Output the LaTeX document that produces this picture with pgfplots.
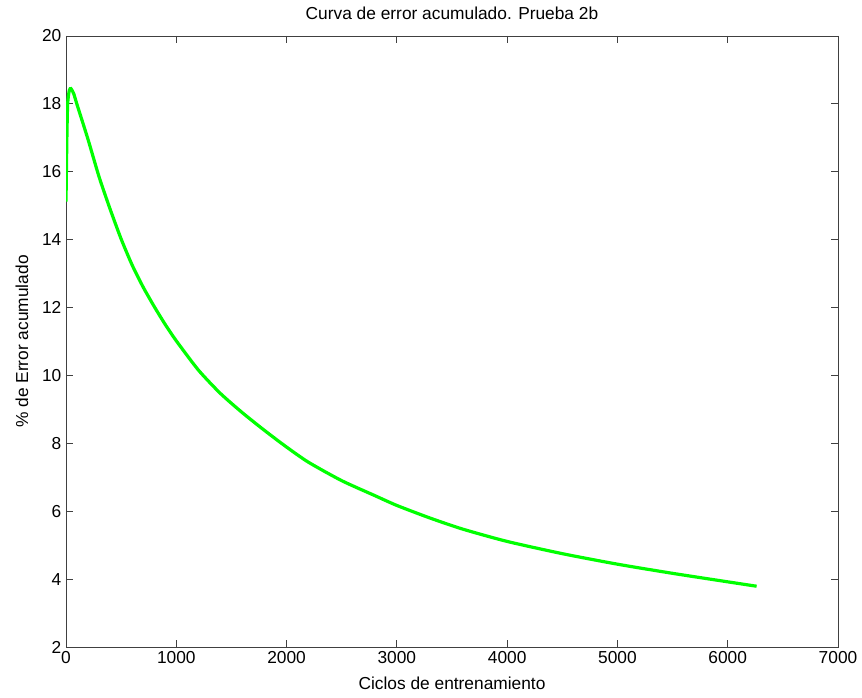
\documentclass[border=0pt]{standalone}
\usepackage{pgfplots}
\pgfplotsset{compat=1.18}
\usepackage{fontspec}
\setmainfont{Liberation Sans}
\begin{document}
\begin{tikzpicture}
\path[use as bounding box] (-49.5pt,-38.25pt) rectangle (597pt,485.25pt);
\begin{axis}[
  at={(0,0)}, anchor=south west,
  scale only axis,
  width=579pt, height=458.25pt,
  xmin=0, xmax=7000, ymin=2, ymax=20,
  xtick={0,1000,...,7000}, ytick={2,4,...,20},
  tick align=inside, tick pos=both,
  major tick length=5pt,
  axis line style={black!75, line width=0.6pt},
  tick style={black!75, line width=0.6pt},
  font=\fontsize{13}{15}\selectfont,
  /pgf/number format/assume math mode=true,
  scaled x ticks=false,
  xticklabel style={/pgf/number format/1000 sep={}},
  title={Curva de error acumulado. Prueba 2b},
  title style={at={(axis description cs:0.5,1)}, anchor=center, yshift=11pt},
  xlabel={Ciclos de entrenamiento},
  ylabel={\% de Error acumulado},
  xlabel style={at={(axis description cs:0.5,0)}, anchor=center, yshift=-27pt},
  ylabel style={at={(axis description cs:0,0.5)}, anchor=center, yshift=33pt},
]
\addplot[color={rgb,255:red,0;green,255;blue,0}, line width=2.4pt, smooth, tension=0.4] coordinates {
(0,15.12) (8,17.0) (15,18.0) (30,18.4) (45,18.45) (70,18.3) (100,17.98)
(200,16.95) (300,15.85) (400,14.90) (500,14.02) (600,13.25) (700,12.60)
(800,12.03) (900,11.50) (1000,11.02) (1200,10.16) (1400,9.47) (1600,8.90)
(1800,8.38) (2000,7.89) (2200,7.44) (2500,6.90) (2800,6.46) (3000,6.17)
(3300,5.80) (3600,5.47) (4000,5.11) (4500,4.75) (5000,4.44) (5500,4.17)
(6000,3.92) (6262,3.79)
};
\end{axis}
\end{tikzpicture}
\end{document}
